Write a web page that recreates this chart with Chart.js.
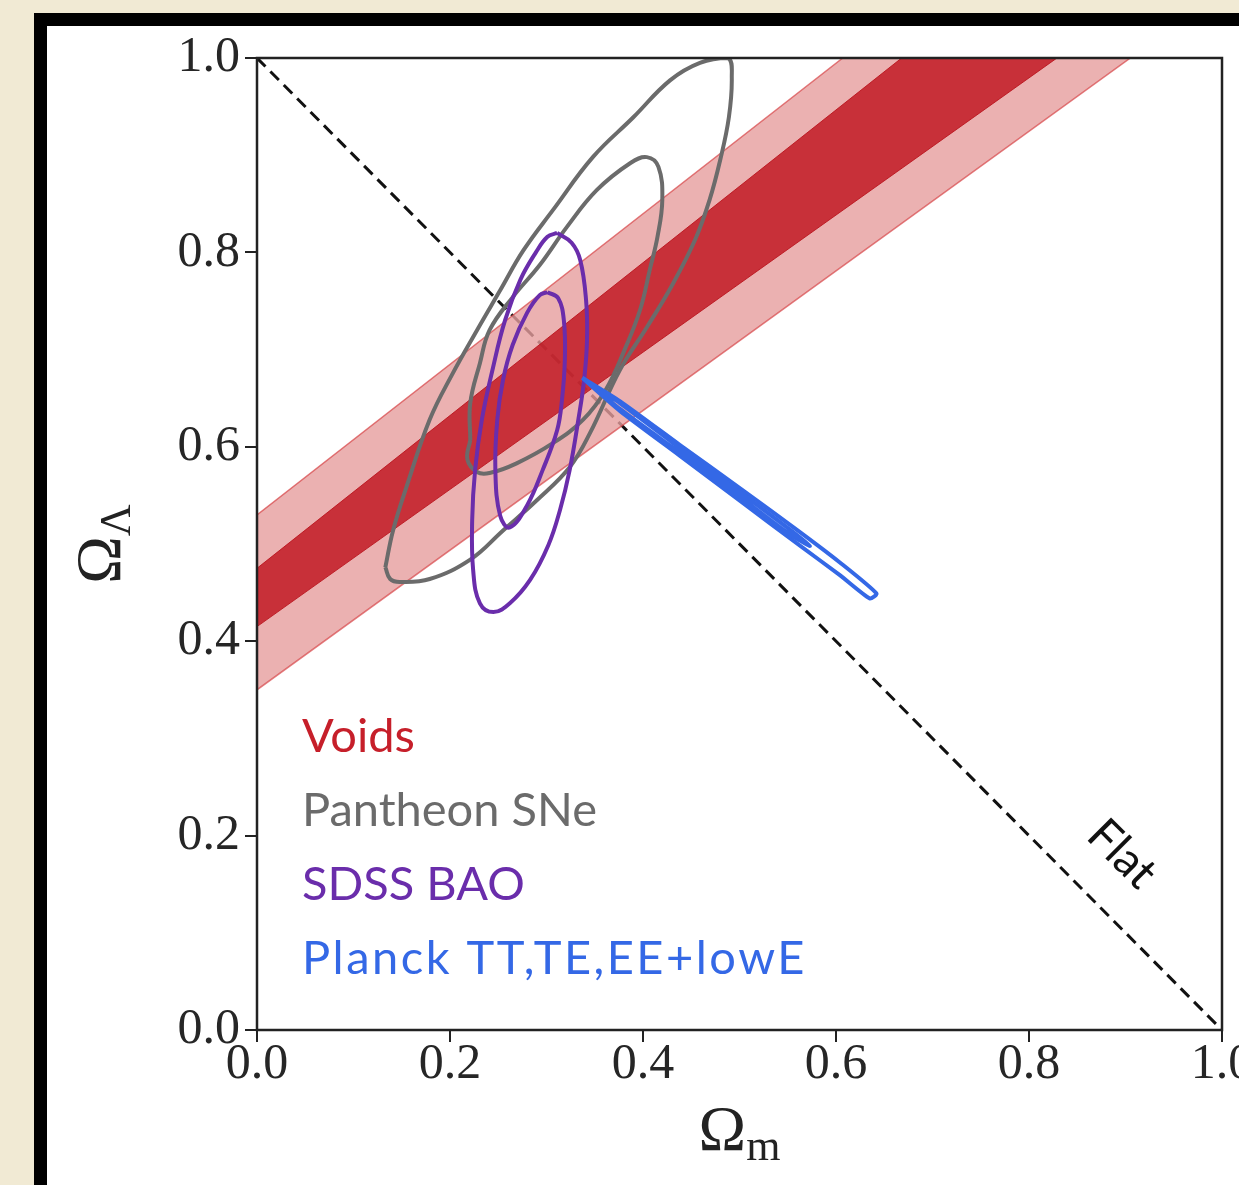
<!DOCTYPE html>
<html>
<head>
<meta charset="utf-8">
<title>Omega_m - Omega_Lambda constraints</title>
<script src="https://cdn.jsdelivr.net/npm/chart.js@4.4.1/dist/chart.umd.min.js"></script>
<style>
  html, body { margin: 0; padding: 0; overflow: hidden; background: #f1ead4; }
  #frame { position: absolute; left: 34px; top: 13px; width: 1400px; height: 1400px; border: 13px solid #000; background: #fff; }
  #chart { position: absolute; left: 0; top: 0; }
</style>
</head>
<body>
<div id="frame"></div>
<canvas id="chart" width="1239" height="1185"></canvas>
<script>
// Values, as (Omega_m, Omega_Lambda) pairs

// axis ticks (same on both axes)
const tickValues = [0, 0.2, 0.4, 0.6, 0.8, 1.0];

// Voids bands: corners of the 2 sigma and 1 sigma regions
const voids2s = [[0, 0.350], [0, 0.530], [0.607, 1.0], [0.905, 1.0]];
const voids1s = [[0, 0.415], [0, 0.475], [0.668, 1.0], [0.829, 1.0]];

// Pantheon SNe contours
const pantheon2s = [
  [0.133, 0.476], [0.141, 0.514], [0.155, 0.559], [0.179, 0.628], [0.202, 0.674],
  [0.228, 0.720], [0.252, 0.761], [0.276, 0.802], [0.307, 0.844], [0.348, 0.898],
  [0.390, 0.939], [0.428, 0.977], [0.459, 0.995], [0.488, 1.000], [0.492, 0.980],
  [0.489, 0.939], [0.480, 0.895], [0.469, 0.854], [0.454, 0.813], [0.430, 0.766],
  [0.404, 0.723], [0.376, 0.679], [0.345, 0.614], [0.324, 0.579], [0.290, 0.545],
  [0.255, 0.514], [0.221, 0.484], [0.179, 0.464], [0.148, 0.461], [0.138, 0.464]
];
const pantheon1s = [
  [0.221, 0.607], [0.221, 0.645], [0.231, 0.686], [0.241, 0.720], [0.265, 0.754],
  [0.293, 0.787], [0.321, 0.826], [0.352, 0.864], [0.387, 0.892], [0.404, 0.898],
  [0.416, 0.888], [0.420, 0.854], [0.415, 0.816], [0.407, 0.782], [0.397, 0.741],
  [0.381, 0.700], [0.361, 0.658], [0.338, 0.628], [0.307, 0.604], [0.269, 0.583],
  [0.241, 0.573], [0.228, 0.574], [0.218, 0.587]
];

// SDSS BAO contours
const sdss2s = [
  [0.311, 0.820], [0.326, 0.810], [0.335, 0.792], [0.341, 0.751], [0.342, 0.710],
  [0.339, 0.669], [0.333, 0.628], [0.324, 0.576], [0.314, 0.535], [0.302, 0.499],
  [0.283, 0.463], [0.262, 0.439], [0.245, 0.430], [0.231, 0.439], [0.224, 0.473],
  [0.223, 0.525], [0.226, 0.576], [0.233, 0.628], [0.244, 0.679], [0.257, 0.730],
  [0.273, 0.772], [0.289, 0.800], [0.301, 0.816]
];
const sdss1s = [
  [0.301, 0.759], [0.312, 0.753], [0.318, 0.730], [0.319, 0.689], [0.316, 0.648],
  [0.311, 0.617], [0.296, 0.576], [0.280, 0.540], [0.262, 0.517], [0.252, 0.529],
  [0.247, 0.576], [0.249, 0.628], [0.255, 0.669], [0.265, 0.705], [0.280, 0.738],
  [0.293, 0.756]
];

// Planck TT,TE,EE+lowE contours (thin, degenerate along the flat line)
const planck2s = [
  [0.337, 0.671], [0.376, 0.647], [0.438, 0.602], [0.501, 0.557], [0.563, 0.512],
  [0.604, 0.481], [0.642, 0.449], [0.635, 0.444], [0.604, 0.468], [0.563, 0.498],
  [0.501, 0.544], [0.438, 0.591], [0.376, 0.637]
];
const planck1s = [
  [0.341, 0.668], [0.376, 0.645], [0.438, 0.599], [0.501, 0.553], [0.552, 0.515],
  [0.573, 0.498], [0.552, 0.510], [0.501, 0.548], [0.438, 0.594], [0.376, 0.639]
];

// flat universe line
const flatLine = [[0, 1], [1, 0]];

const legendLabels = ['Voids', 'Pantheon SNe', 'SDSS BAO', 'Planck TT,TE,EE+lowE'];
const legendColors = ['#c61f2a', '#6b6b6b', '#6a2dab', '#3468e6'];

const GRAY = '#6b6b6b';
const PURPLE = '#6a2dab';
const BLUE = '#3468e6';

function toPoints(list) {
    return list.map(p => ({x: p[0], y: p[1]}));
}

function closed(list) {
    return toPoints(list.concat([list[0]]));
}

function contour(list, color, order, tension) {
    return {
        data: closed(list),
        borderColor: color,
        borderWidth: 4,
        tension: tension,
        pointRadius: 0,
        fill: false,
        order: order
    };
}

// frame, axis titles, legend text and the "Flat" label
const decorPlugin = {
    id: 'decor',
    afterDraw(chart) {
        const ctx = chart.ctx;
        const a = chart.chartArea;
        ctx.save();

        ctx.strokeStyle = '#222';
        ctx.lineWidth = 2.5;
        ctx.strokeRect(a.left, a.top, a.right - a.left, a.bottom - a.top);

        // legend, coloured text only (the Computer Modern original runs a bit wider)
        ctx.textAlign = 'left';
        ctx.textBaseline = 'alphabetic';
        ctx.font = '47px Lato';
        legendLabels.forEach((t, i) => {
            ctx.fillStyle = legendColors[i];
            ctx.letterSpacing = i === 3 ? '2.5px' : '0px';
            ctx.fillText(t, a.left + 45, a.top + 694 + i * 74);
        });
        ctx.letterSpacing = '0px';

        // "Flat" along the dashed line
        ctx.save();
        ctx.translate(a.left + 865, a.top + 796);
        ctx.rotate(Math.PI / 4);
        ctx.fillStyle = '#111';
        ctx.textAlign = 'center';
        ctx.textBaseline = 'middle';
        ctx.font = '46px Lato';
        ctx.fillText('Flat', 0, 0);
        ctx.restore();

        // x title: Omega_m
        ctx.fillStyle = '#222';
        ctx.textAlign = 'left';
        ctx.font = '64px "Liberation Serif"';
        const wOm = ctx.measureText('\u03A9').width;
        ctx.font = '44px "Liberation Serif"';
        const wM = ctx.measureText('m').width;
        let x0 = (a.left + a.right) / 2 - (wOm + wM) / 2;
        ctx.font = '64px "Liberation Serif"';
        ctx.fillText('\u03A9', x0, a.bottom + 120);
        ctx.font = '44px "Liberation Serif"';
        ctx.fillText('m', x0 + wOm, a.bottom + 130);

        // y title: Omega_Lambda, rotated
        ctx.save();
        ctx.translate(a.left - 137, (a.top + a.bottom) / 2);
        ctx.rotate(-Math.PI / 2);
        ctx.font = '44px "Liberation Serif"';
        const wL = ctx.measureText('\u039B').width;
        x0 = -(wOm + wL) / 2;
        ctx.font = '64px "Liberation Serif"';
        ctx.fillText('\u03A9', x0, 0);
        ctx.font = '44px "Liberation Serif"';
        ctx.fillText('\u039B', x0 + wOm, 10);
        ctx.restore();

        ctx.restore();
    }
};

const tickFont = {family: '"Liberation Serif"', size: 50};

new Chart(document.getElementById('chart'), {
    type: 'line',
    data: {
        datasets: [
            contour(planck1s, BLUE, 1, 0.2),
            contour(planck2s, BLUE, 2, 0.2),
            contour(sdss1s, PURPLE, 3, 0.4),
            contour(sdss2s, PURPLE, 4, 0.4),
            contour(pantheon1s, GRAY, 5, 0.4),
            contour(pantheon2s, GRAY, 6, 0.4),
            {
                data: closed(voids1s),
                fill: 'shape',
                backgroundColor: 'rgba(191, 16, 28, 0.8)',
                borderColor: 'rgba(185, 15, 25, 0.85)',
                borderWidth: 1,
                tension: 0,
                pointRadius: 0,
                order: 7
            },
            {
                data: closed(voids2s),
                fill: 'shape',
                backgroundColor: 'rgba(230, 157, 158, 0.8)',
                borderColor: 'rgba(215, 70, 72, 0.7)',
                borderWidth: 1.5,
                tension: 0,
                pointRadius: 0,
                order: 8
            },
            {
                data: toPoints(flatLine),
                borderColor: '#111',
                borderWidth: 3,
                borderDash: [12, 7],
                pointRadius: 0,
                fill: false,
                order: 9
            }
        ]
    },
    options: {
        responsive: false,
        animation: false,
        events: [],
        layout: {padding: {left: 0, right: 17, top: 58, bottom: 0}},
        plugins: {
            legend: {display: false},
            tooltip: {enabled: false}
        },
        scales: {
            x: {
                type: 'linear',
                min: 0,
                max: 1,
                afterBuildTicks: s => { s.ticks = tickValues.map(v => ({value: v})); },
                afterFit: s => { s.height = 155; s.paddingLeft = 0; s.paddingRight = 0; },
                grid: {drawOnChartArea: false, tickLength: 12, color: '#222', lineWidth: 2},
                border: {color: '#222', width: 2},
                ticks: {
                    font: tickFont,
                    color: '#262626',
                    padding: -7,
                    maxRotation: 0,
                    callback: v => v.toFixed(1)
                }
            },
            y: {
                type: 'linear',
                min: 0,
                max: 1,
                afterBuildTicks: s => { s.ticks = tickValues.map(v => ({value: v})); },
                afterFit: s => { s.width = 257; s.paddingTop = 0; s.paddingBottom = 0; },
                grid: {drawOnChartArea: false, tickLength: 12, color: '#222', lineWidth: 2},
                border: {color: '#222', width: 2},
                ticks: {
                    font: tickFont,
                    color: '#262626',
                    padding: 5,
                    callback: v => v.toFixed(1)
                }
            }
        }
    },
    plugins: [decorPlugin]
});
</script>
</body>
</html>
